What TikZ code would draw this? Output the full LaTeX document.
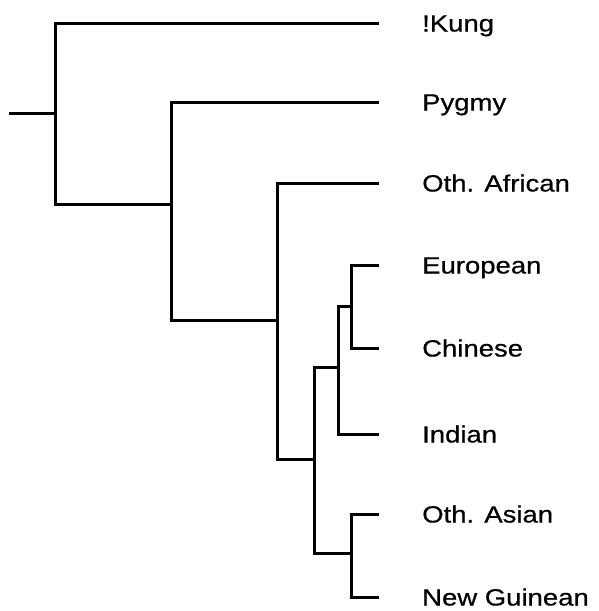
\documentclass[tikz,border=0pt]{standalone}
\usepackage{fontspec}
\setmainfont[FakeStretch=1.17, FakeBold=0.6]{Liberation Sans}
\usepackage{tikz}
\usetikzlibrary{positioning}

\tikzset{
    branch/.style={line width=3pt, line cap=rect, line join=miter},
    taxon/.style={anchor=west, inner sep=0pt, text height=17pt, text depth=0pt,
                  font=\fontsize{23.5}{28}\selectfont}
}

\begin{document}
\begin{tikzpicture}[x=1pt, y=-1pt]

    \useasboundingbox (0,0) rectangle (598,611);

    % =================================================================
    % 1. INTERNAL NODES OF THE TREE
    % =================================================================
    \coordinate (root) at (10,113);
    \coordinate (n0) at (55,113);
    \coordinate (n1) at (171,204);
    \coordinate (n2) at (277,320);
    \coordinate (n3) at (314,459);
    \coordinate (n4) at (338,367);
    \coordinate (n5) at (351,306);
    \coordinate (n6) at (351,553);

    % =================================================================
    % 2. LEAF TIPS AND THEIR LABELS
    % =================================================================
    \coordinate (kung-tip) at (377,23);
    \coordinate (pygmy-tip) at (377,102);
    \coordinate (othafrican-tip) at (377,183);
    \coordinate (european-tip) at (377,265);
    \coordinate (chinese-tip) at (377,348);
    \coordinate (indian-tip) at (377,434);
    \coordinate (othasian-tip) at (377,514);
    \coordinate (newguinean-tip) at (377,597);

    \node[taxon, right=45pt of kung-tip] (kung) {!Kung};
    \node[taxon, right=45pt of pygmy-tip] (pygmy) {Pygmy};
    \node[taxon, right=45pt of othafrican-tip] (othafrican) {Oth. African};
    \node[taxon, right=45pt of european-tip] (european) {European};
    \node[taxon, right=45pt of chinese-tip] (chinese) {Chinese};
    \node[taxon, right=45pt of indian-tip] (indian) {Indian};
    \node[taxon, right=45pt of othasian-tip] (othasian) {Oth. Asian};
    \node[taxon, right=45pt of newguinean-tip] (newguinean) {New Guinean};

    % =================================================================
    % 3. BRANCHES
    % =================================================================
    \draw[branch] (root) -- (n0);
    \draw[branch] (n0) |- (kung-tip);
    \draw[branch] (n0) |- (n1);

    \draw[branch] (n1) |- (pygmy-tip);
    \draw[branch] (n1) |- (n2);

    \draw[branch] (n2) |- (othafrican-tip);
    \draw[branch] (n2) |- (n3);

    \draw[branch] (n3) |- (n4);
    \draw[branch] (n3) |- (n6);

    \draw[branch] (n4) |- (n5);
    \draw[branch] (n4) |- (indian-tip);

    \draw[branch] (n5) |- (european-tip);
    \draw[branch] (n5) |- (chinese-tip);

    \draw[branch] (n6) |- (othasian-tip);
    \draw[branch] (n6) |- (newguinean-tip);

\end{tikzpicture}
\end{document}
